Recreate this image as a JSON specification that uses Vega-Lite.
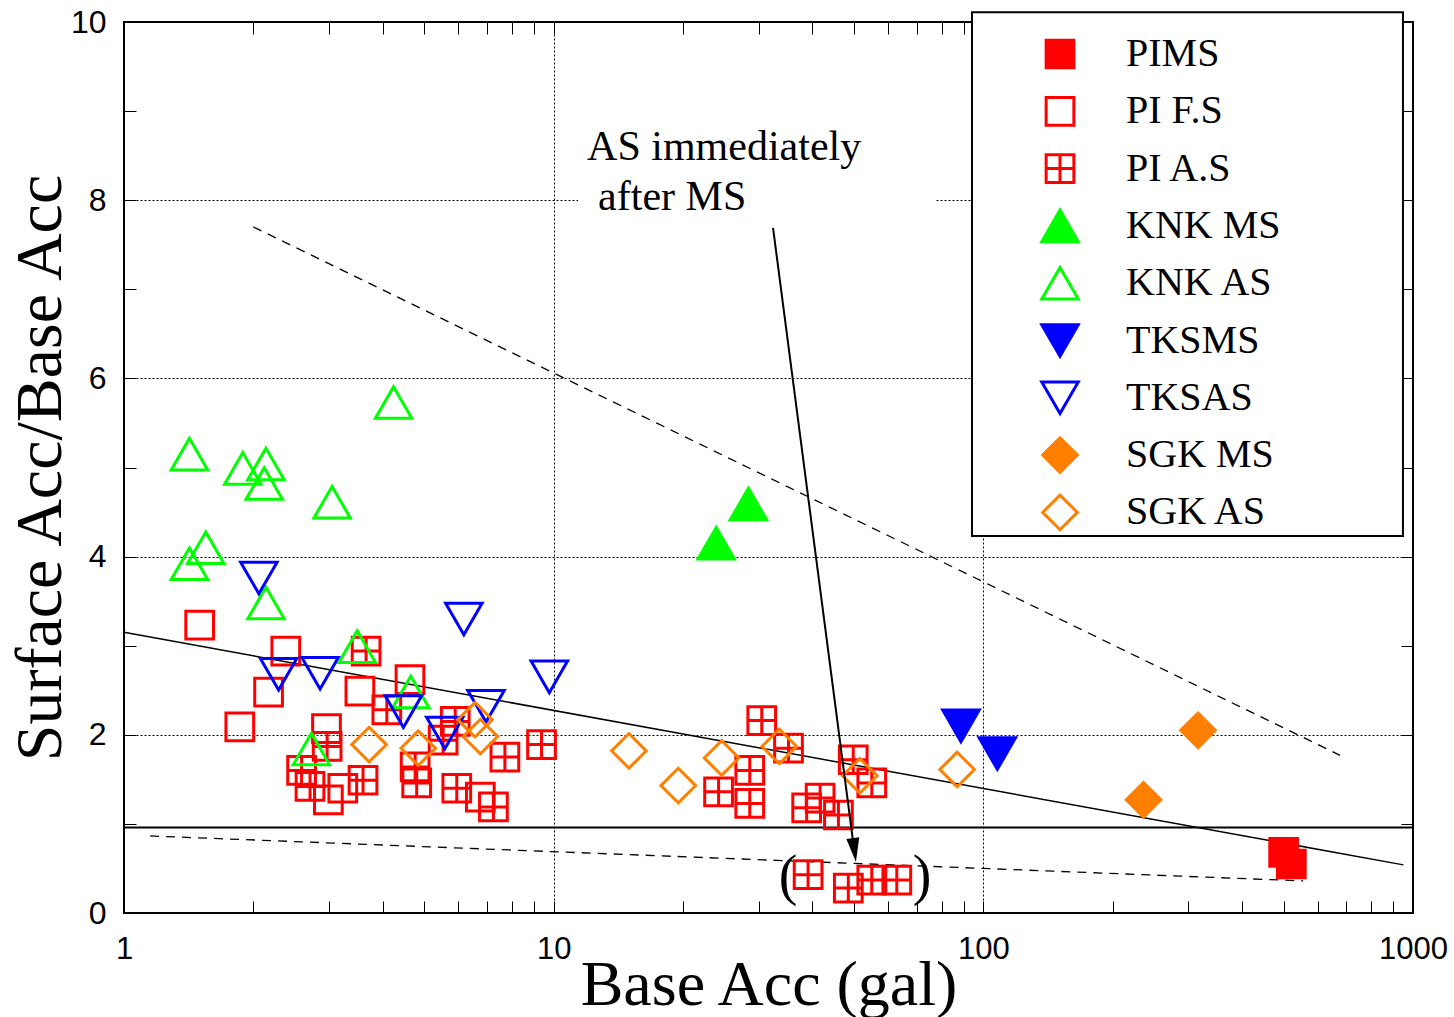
{
  "$schema": "https://vega.github.io/schema/vega-lite/v6.json",
  "width": 1289,
  "height": 891,
  "autosize": {"type": "none"},
  "padding": {"left": 124, "top": 22, "right": 41, "bottom": 104},
  "background": "white",
  "config": {
    "view": {"stroke": "black", "strokeWidth": 2},
    "axis": {
      "domain": false,
      "grid": true,
      "gridColor": "black",
      "gridDash": [2, 2],
      "gridWidth": 1,
      "tickColor": "black",
      "tickWidth": 1,
      "labelColor": "black",
      "titleColor": "black",
      "titleFontWeight": "normal",
      "labelFlush": false,
      "labelOverlap": false,
      "labelBound": false
    }
  },
  "datasets": {
    "points": [
      {"series": "PIMS", "x": 500, "y": 0.68},
      {"series": "PIMS", "x": 521, "y": 0.55},
      {"series": "PI F.S", "x": 1.50, "y": 3.23},
      {"series": "PI F.S", "x": 1.86, "y": 2.09},
      {"series": "PI F.S", "x": 2.17, "y": 2.48},
      {"series": "PI F.S", "x": 2.38, "y": 2.94},
      {"series": "PI F.S", "x": 3.54, "y": 2.49},
      {"series": "PI F.S", "x": 4.63, "y": 2.62},
      {"series": "PI F.S", "x": 2.96, "y": 2.07},
      {"series": "PI F.S", "x": 2.99, "y": 1.27},
      {"series": "PI F.S", "x": 3.23, "y": 1.40},
      {"series": "PI F.S", "x": 6.75, "y": 1.30},
      {"series": "PI A.S", "x": 3.66, "y": 2.94},
      {"series": "PI A.S", "x": 2.97, "y": 1.87},
      {"series": "PI A.S", "x": 4.09, "y": 2.28},
      {"series": "PI A.S", "x": 2.59, "y": 1.60},
      {"series": "PI A.S", "x": 2.71, "y": 1.42},
      {"series": "PI A.S", "x": 3.60, "y": 1.49},
      {"series": "PI A.S", "x": 4.76, "y": 1.64},
      {"series": "PI A.S", "x": 4.80, "y": 1.46},
      {"series": "PI A.S", "x": 5.90, "y": 2.15},
      {"series": "PI A.S", "x": 5.53, "y": 1.94},
      {"series": "PI A.S", "x": 7.70, "y": 1.75},
      {"series": "PI A.S", "x": 9.37, "y": 1.89},
      {"series": "PI A.S", "x": 5.95, "y": 1.40},
      {"series": "PI A.S", "x": 7.24, "y": 1.19},
      {"series": "PI A.S", "x": 30.5, "y": 2.16},
      {"series": "PI A.S", "x": 35.2, "y": 1.85},
      {"series": "PI A.S", "x": 28.6, "y": 1.60},
      {"series": "PI A.S", "x": 24.2, "y": 1.36},
      {"series": "PI A.S", "x": 28.6, "y": 1.23},
      {"series": "PI A.S", "x": 38.8, "y": 1.18},
      {"series": "PI A.S", "x": 41.7, "y": 1.29},
      {"series": "PI A.S", "x": 46.0, "y": 1.10},
      {"series": "PI A.S", "x": 49.8, "y": 1.72},
      {"series": "PI A.S", "x": 55.0, "y": 1.46},
      {"series": "PI A.S", "x": 39.1, "y": 0.43},
      {"series": "PI A.S", "x": 48.5, "y": 0.28},
      {"series": "PI A.S", "x": 55.0, "y": 0.37},
      {"series": "PI A.S", "x": 62.9, "y": 0.37},
      {"series": "KNK MS", "x": 23.9, "y": 4.15},
      {"series": "KNK MS", "x": 28.4, "y": 4.59},
      {"series": "KNK AS", "x": 1.42, "y": 5.15},
      {"series": "KNK AS", "x": 1.89, "y": 4.99},
      {"series": "KNK AS", "x": 2.14, "y": 5.04},
      {"series": "KNK AS", "x": 2.12, "y": 4.82},
      {"series": "KNK AS", "x": 3.05, "y": 4.61},
      {"series": "KNK AS", "x": 4.24, "y": 5.73},
      {"series": "KNK AS", "x": 1.42, "y": 3.92},
      {"series": "KNK AS", "x": 1.55, "y": 4.10},
      {"series": "KNK AS", "x": 2.14, "y": 3.48},
      {"series": "KNK AS", "x": 3.49, "y": 2.99},
      {"series": "KNK AS", "x": 4.65, "y": 2.48},
      {"series": "KNK AS", "x": 2.73, "y": 1.84},
      {"series": "TKSMS", "x": 88.7, "y": 2.10},
      {"series": "TKSMS", "x": 107.8, "y": 1.79},
      {"series": "TKSAS", "x": 2.06, "y": 3.76},
      {"series": "TKSAS", "x": 2.29, "y": 2.68},
      {"series": "TKSAS", "x": 2.86, "y": 2.69},
      {"series": "TKSAS", "x": 6.18, "y": 3.30},
      {"series": "TKSAS", "x": 9.77, "y": 2.65},
      {"series": "TKSAS", "x": 4.47, "y": 2.26},
      {"series": "TKSAS", "x": 5.58, "y": 2.02},
      {"series": "TKSAS", "x": 6.96, "y": 2.32},
      {"series": "SGK MS", "x": 236, "y": 1.27},
      {"series": "SGK MS", "x": 316, "y": 2.05},
      {"series": "SGK AS", "x": 3.72, "y": 1.89},
      {"series": "SGK AS", "x": 4.84, "y": 1.85},
      {"series": "SGK AS", "x": 6.56, "y": 2.17},
      {"series": "SGK AS", "x": 6.75, "y": 1.98},
      {"series": "SGK AS", "x": 14.97, "y": 1.82},
      {"series": "SGK AS", "x": 19.5, "y": 1.43},
      {"series": "SGK AS", "x": 24.6, "y": 1.74},
      {"series": "SGK AS", "x": 33.5, "y": 1.87},
      {"series": "SGK AS", "x": 51.6, "y": 1.54},
      {"series": "SGK AS", "x": 86.9, "y": 1.61}
    ],
    "lines": [
      {"line": "fit", "x": 1, "y": 3.15},
      {"line": "fit", "x": 950, "y": 0.54},
      {"line": "unity", "x": 1, "y": 0.96},
      {"line": "unity", "x": 1000, "y": 0.96},
      {"line": "upper", "x": 2.0, "y": 7.70},
      {"line": "upper", "x": 676, "y": 1.77},
      {"line": "lower", "x": 1.15, "y": 0.865},
      {"line": "lower", "x": 555, "y": 0.36}
    ],
    "legendbox": [{"x": 94.1, "x2": 947.6, "y": 4.23, "y2": 10.11}],
    "textbox": [{"x": 11.4, "x2": 77.2, "y": 7.85, "y2": 8.15}],
    "arrow": [{"x": 32.4, "y": 7.69, "x2": 49.7, "y2": 0.82}],
    "arrowhead": [{"x": 50.1, "y": 0.707}],
    "notes": [
      {"x": 11.96, "y": 8.45, "text": "AS immediately"},
      {"x": 12.69, "y": 7.89, "text": "after MS"}
    ],
    "parens": [
      {"x": 35.1, "y": 0.40, "text": "("},
      {"x": 72.0, "y": 0.40, "text": ")"}
    ]
  },
  "layer": [
    {
      "encoding": {
        "x": {
          "field": "x",
          "type": "quantitative",
          "scale": {"type": "log", "domain": [1, 1000]},
          "axis": {
            "title": "Base Acc (gal)",
            "values": [1, 2, 3, 4, 5, 6, 7, 8, 9, 10, 20, 30, 40, 50, 60, 70, 80, 90, 100, 200, 300, 400, 500, 600, 700, 800, 900, 1000],
            "labelExpr": "datum.value == 1 || datum.value == 10 || datum.value == 100 || datum.value == 1000 ? format(datum.value, 'd') : ''",
            "gridOpacity": {"condition": {"test": "datum.value == 10 || datum.value == 100", "value": 1}, "value": 0},
            "tickSize": -12,
            "labelFont": "Liberation Sans",
            "labelFontSize": 31,
            "labelPadding": 33,
            "titleFont": "Liberation Serif",
            "titleFontSize": 64,
            "titleBaseline": "alphabetic",
            "titlePadding": 40
          }
        },
        "y": {
          "field": "y",
          "type": "quantitative",
          "scale": {"domain": [0, 10]},
          "axis": {
            "title": "Surface Acc/Base Acc",
            "values": [0, 1, 2, 3, 4, 5, 6, 7, 8, 9, 10],
            "labelExpr": "datum.value % 2 == 0 ? datum.label : ''",
            "gridOpacity": {"condition": {"test": "datum.value > 0 && datum.value < 10 && datum.value % 2 == 0", "value": 1}, "value": 0},
            "tickSize": -12,
            "labelFont": "Liberation Sans",
            "labelFontSize": 32,
            "labelPadding": 30,
            "titleFont": "Liberation Serif",
            "titleFontSize": 66,
            "titlePadding": -4
          }
        }
      },
      "layer": [
        {
          "data": {"name": "textbox"},
          "mark": {"type": "rect", "fill": "white"},
          "encoding": {"x2": {"field": "x2"}, "y2": {"field": "y2"}}
        },
        {
          "data": {"name": "lines"},
          "transform": [{"filter": "datum.line == 'fit'"}],
          "mark": {"type": "line", "color": "black", "strokeWidth": 1.5}
        },
        {
          "data": {"name": "lines"},
          "transform": [{"filter": "datum.line == 'unity'"}],
          "mark": {"type": "line", "color": "black", "strokeWidth": 2}
        },
        {
          "data": {"name": "lines"},
          "transform": [{"filter": "datum.line == 'upper' || datum.line == 'lower'"}],
          "mark": {"type": "line", "color": "black", "strokeWidth": 1.3, "strokeDash": [9, 7]},
          "encoding": {"detail": {"field": "line"}}
        },
        {
          "data": {"name": "points"},
          "mark": {"type": "point", "strokeWidth": 3, "opacity": 1, "size": 1330},
          "encoding": {
            "shape": {
              "field": "series",
              "type": "nominal",
              "scale": {
                "domain": ["PIMS", "PI F.S", "PI A.S", "KNK MS", "KNK AS", "TKSMS", "TKSAS", "SGK MS", "SGK AS"],
                "range": [
                  "M-0.76,-0.76H0.76V0.76H-0.76Z",
                  "M-0.76,-0.76H0.76V0.76H-0.76Z",
                  "M-0.76,-0.76H0.76V0.76H-0.76Z M0,-0.76V0.76 M-0.76,0H0.76",
                  "M0,-0.866L1,0.866L-1,0.866Z",
                  "M0,-0.866L1,0.866L-1,0.866Z",
                  "M0,0.866L1,-0.866L-1,-0.866Z",
                  "M0,0.866L1,-0.866L-1,-0.866Z",
                  "M0,-0.95L0.95,0L0,0.95L-0.95,0Z",
                  "M0,-0.95L0.95,0L0,0.95L-0.95,0Z"
                ]
              },
              "legend": {
                "title": null, "orient": "none", "legendX": 916, "legendY": 12, "padding": 0,
                "gridAlign": "all", "symbolSize": 1330, "symbolStrokeWidth": 3,
                "labelFont": "Liberation Serif", "labelFontSize": 40, "labelColor": "black",
                "labelOffset": 46, "rowPadding": 9.3, "labelLimit": 400
              }
            },
            "fill": {
              "field": "series",
              "type": "nominal",
              "scale": {
                "domain": ["PIMS", "PI F.S", "PI A.S", "KNK MS", "KNK AS", "TKSMS", "TKSAS", "SGK MS", "SGK AS"],
                "range": ["#ff0000", "transparent", "transparent", "#00ff00", "transparent", "#0000ff", "transparent", "#ff8000", "transparent"]
              },
              "legend": {
                "title": null, "orient": "none", "legendX": 916, "legendY": 12, "padding": 0,
                "gridAlign": "all", "symbolSize": 1330, "symbolStrokeWidth": 3,
                "labelFont": "Liberation Serif", "labelFontSize": 40, "labelColor": "black",
                "labelOffset": 46, "rowPadding": 9.3, "labelLimit": 400
              }
            },
            "stroke": {
              "field": "series",
              "type": "nominal",
              "scale": {
                "domain": ["PIMS", "PI F.S", "PI A.S", "KNK MS", "KNK AS", "TKSMS", "TKSAS", "SGK MS", "SGK AS"],
                "range": ["#ff0000", "#ff0000", "#ff0000", "#00ff00", "#00ff00", "#0000ff", "#0000ff", "#ff8000", "#ff8000"]
              },
              "legend": {
                "title": null, "orient": "none", "legendX": 916, "legendY": 12, "padding": 0,
                "gridAlign": "all", "symbolSize": 1330, "symbolStrokeWidth": 3,
                "labelFont": "Liberation Serif", "labelFontSize": 40, "labelColor": "black",
                "labelOffset": 46, "rowPadding": 9.3, "labelLimit": 400
              }
            }
          }
        },
        {
          "data": {"name": "legendbox"},
          "mark": {"type": "rect", "fill": "white", "stroke": "black", "strokeWidth": 2},
          "encoding": {"x2": {"field": "x2"}, "y2": {"field": "y2"}}
        },
        {
          "data": {"name": "arrow"},
          "mark": {"type": "rule", "color": "black", "strokeWidth": 2},
          "encoding": {"x2": {"field": "x2"}, "y2": {"field": "y2"}}
        },
        {
          "data": {"name": "arrowhead"},
          "mark": {"type": "point", "shape": "M-0.54,-1L0.54,-1L0,1Z", "size": 576, "filled": true, "color": "black", "opacity": 1, "angle": 352.6}
        },
        {
          "data": {"name": "notes"},
          "mark": {"type": "text", "align": "left", "baseline": "alphabetic", "font": "Liberation Serif", "fontSize": 42, "color": "black"},
          "encoding": {"text": {"field": "text"}}
        },
        {
          "data": {"name": "parens"},
          "mark": {"type": "text", "align": "center", "baseline": "middle", "font": "Liberation Serif", "fontSize": 56, "color": "black"},
          "encoding": {"text": {"field": "text"}}
        }
      ]
    },
    {
      "data": {"name": "lines"},
      "mark": {"type": "point", "opacity": 0},
      "encoding": {
        "x": {
          "field": "x",
          "type": "quantitative",
          "scale": {"type": "log", "domain": [1, 1000]},
          "axis": {
            "orient": "top", "title": null, "labels": false, "grid": false,
            "values": [1, 2, 3, 4, 5, 6, 7, 8, 9, 10, 20, 30, 40, 50, 60, 70, 80, 90, 100, 200, 300, 400, 500, 600, 700, 800, 900, 1000],
            "tickSize": -12
          }
        },
        "y": {
          "field": "y",
          "type": "quantitative",
          "scale": {"domain": [0, 10]},
          "axis": {
            "orient": "right", "title": null, "labels": false, "grid": false,
            "values": [0, 1, 2, 3, 4, 5, 6, 7, 8, 9, 10],
            "tickSize": -12
          }
        }
      }
    }
  ],
  "resolve": {"axis": {"x": "independent", "y": "independent"}}
}
